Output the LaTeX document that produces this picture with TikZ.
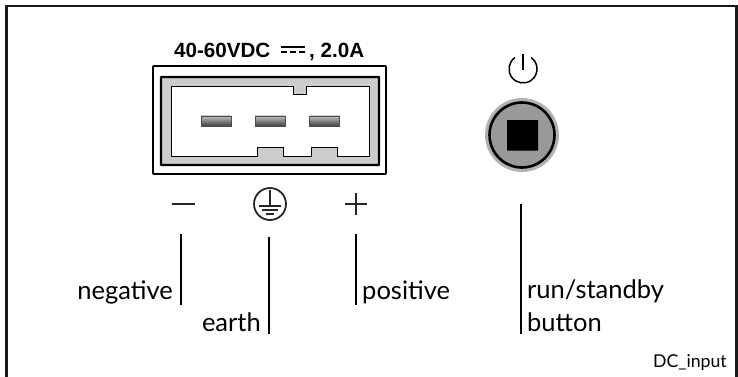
\documentclass[tikz,border=0pt]{standalone}
\usepackage{fontspec}
\setmainfont{Lato}
\newfontfamily\boldlab{Liberation Sans}
\begin{document}
\begin{tikzpicture}[x=1pt,y=-1pt,
  lab/.style={inner sep=0pt,font=\fontsize{25.5}{28}\selectfont,text=black},
  leader/.style={line width=2pt,black},
  sym/.style={line width=1.8pt,black!85}]
\useasboundingbox (0,0) rectangle (738,377);
% frame
\coordinate (fa) at (6.5,377); \coordinate (fb) at (6.5,6); \coordinate (fc) at (736.5,6); \coordinate (fd) at (736.5,377);
\draw[line width=2.5pt,black!90] (fa) -- (fb) -- (fc) -- (fd);
% title
\node[inner sep=0pt,anchor=base west] (rating) at (174,58) {\boldlab\bfseries\fontsize{20.6}{24}\selectfont 40-60VDC};
\coordinate (dca) at (281,47); \coordinate (dcb) at (305,47);
\draw[line width=1.4pt] (dca) -- (dcb);
\draw[line width=1.4pt,dash pattern=on 6pt off 3pt] ([yshift=-5pt]dca) -- ([yshift=-5pt]dcb);
\node[inner sep=0pt,anchor=base west] (ratingb) at (309,58) {\boldlab\bfseries\fontsize{20.6}{24}\selectfont , 2.0A};
% connector
\draw[line width=1.6pt,fill=white,rounded corners=0.5pt] (153,66) rectangle (386,174);
\draw[line width=2.4pt,fill=black!20,rounded corners=0.5pt] (161,77) rectangle (379,165);
\draw[line width=1pt,fill=white]
  (171,87) -- (293,87) -- (293,95) -- (306,95) -- (306,87) -- (369,87) -- (369,156)
  -- (337,156) -- (337,147) -- (311,147) -- (311,156) -- (283,156) -- (283,147) -- (257,147) -- (257,156) -- (171,156) -- cycle;
\foreach \px in {201,255,309.5}{
  \draw[line width=0.8pt,black!70,top color=black!25,bottom color=black!75]
    (\px,116) rectangle ++(30,10);
}
% power symbol
\coordinate (pw) at (523,69);
\draw[line width=1.5pt] (515,57.5) arc[start angle=235,end angle=-55,radius=14];
\draw[line width=1.5pt] (523,54) -- (523,70);
% button
\coordinate (bt) at (522,135);
\fill[black!30] (bt) circle[radius=37];
\draw[line width=2.6pt,fill=black!40] (bt) circle[radius=32.5];
\fill[black,rounded corners=0.5pt] (507,120) rectangle (538,150.5);
% symbols
\coordinate (mna) at (172,204); \coordinate (mnb) at (195,204);
\draw[sym] (mna) -- (mnb);
\draw[sym] (345,204) -- (367,204) (356,193) -- (356,215);
\coordinate (ea) at (270,204);
\draw[sym] (ea) circle[radius=16];
\draw[sym] (270,190) -- (270,206) (259,206) -- (281,206);
\draw[sym] (262,210) -- (278,210) (266,214) -- (274,214);
% leaders
\coordinate (la) at (181,234); \coordinate (lb) at (181,305);
\coordinate (lc) at (269,237); \coordinate (ld) at (269,334);
\coordinate (le) at (356,234); \coordinate (lf) at (356,305);
\coordinate (lg) at (521,204); \coordinate (lh) at (521,334);
\draw[leader] (la) -- (lb);
\draw[leader] (lc) -- (ld);
\draw[leader] (le) -- (lf);
\draw[leader] (lg) -- (lh);
% labels
\node[lab,anchor=base east] (neg) at (173,299) {negative};
\node[lab,anchor=base east] (ear) at (261,331) {earth};
\node[lab,anchor=base west] (pos) at (362,299) {positive};
\node[lab,anchor=base west] (run) at (527,298) {run/standby};
\node[lab,anchor=base west] (but) at (527,331) {button};
\node[inner sep=0pt,anchor=base east,font=\fontsize{17.7}{20}\selectfont] (fig) at (727,367) {DC\_input};
\end{tikzpicture}
\end{document}
